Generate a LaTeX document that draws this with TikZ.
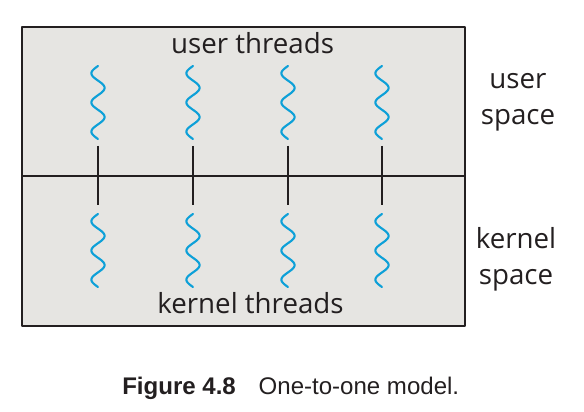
\documentclass[tikz,border=0pt]{standalone}
\usepackage{fontspec}
\setmainfont{Liberation Sans}
\newfontfamily\figsans{Open Sans}
\definecolor{panelgray}{HTML}{E6E5E2}
\definecolor{threadblue}{HTML}{0DA0D8}
\definecolor{inkdark}{HTML}{231F20}

\begin{document}
\begin{tikzpicture}[x=0.025cm,y=-0.025cm,line cap=round,line join=round,every node/.style={inner sep=0pt},
  wave/.style={draw=threadblue,line width=1.5pt},
  link/.style={draw=inkdark,line width=0.9pt,line cap=butt},
  lbl/.style={font=\figsans\fontsize{19.7}{25.6}\selectfont,text=inkdark,anchor=base,align=center}]
  \useasboundingbox (0,0) rectangle (584,412);
  \def\A{6.6}
  \def\uy{66}
  \def\ky{214}
  \def\len{73}
  % the two spaces
  \fill[panelgray,draw=inkdark,line width=0.8pt] (22,27) rectangle (465,326);
  \coordinate (divl) at (22,176);
  \coordinate (divr) at (465,176);
  \draw[link] (divl) -- (divr);
  % user threads
  \draw[wave] plot[domain=0:1,samples=90,smooth] ({98-\A*sin(900*\x)},{\uy+\len*\x});
  \draw[wave] plot[domain=0:1,samples=90,smooth] ({193-\A*sin(900*\x)},{\uy+\len*\x});
  \draw[wave] plot[domain=0:1,samples=90,smooth] ({288-\A*sin(900*\x)},{\uy+\len*\x});
  \draw[wave] plot[domain=0:1,samples=90,smooth] ({382-\A*sin(900*\x)},{\uy+\len*\x});
  % kernel threads
  \draw[wave] plot[domain=0:1,samples=90,smooth] ({98-\A*sin(900*\x)},{\ky+\len*\x});
  \draw[wave] plot[domain=0:1,samples=90,smooth] ({193-\A*sin(900*\x)},{\ky+\len*\x});
  \draw[wave] plot[domain=0:1,samples=90,smooth] ({288-\A*sin(900*\x)},{\ky+\len*\x});
  \draw[wave] plot[domain=0:1,samples=90,smooth] ({382-\A*sin(900*\x)},{\ky+\len*\x});
  % one-to-one links
  \coordinate (u1) at (98,146);  \coordinate (k1) at (98,205);
  \coordinate (u2) at (193,146); \coordinate (k2) at (193,205);
  \coordinate (u3) at (288,146); \coordinate (k3) at (288,205);
  \coordinate (u4) at (382,146); \coordinate (k4) at (382,205);
  \draw[link] (u1) -- (k1);
  \draw[link] (u2) -- (k2);
  \draw[link] (u3) -- (k3);
  \draw[link] (u4) -- (k4);
  % labels
  \node[lbl] (uthreads) at (252.5,54) {user threads};
  \node[lbl] (kthreads) at (250.5,313) {kernel threads};
  \node[lbl] (uspace) at (518,125) {user\\space};
  \node[lbl] (kspace) at (516,284) {kernel\\space};
  \node[anchor=base west,font=\fontsize{17.1}{20}\selectfont,text=inkdark] (caption) at (122,394)
    {{\bfseries Figure 4.8}\hspace{0.95em}One-to-one model.};
\end{tikzpicture}
\end{document}
